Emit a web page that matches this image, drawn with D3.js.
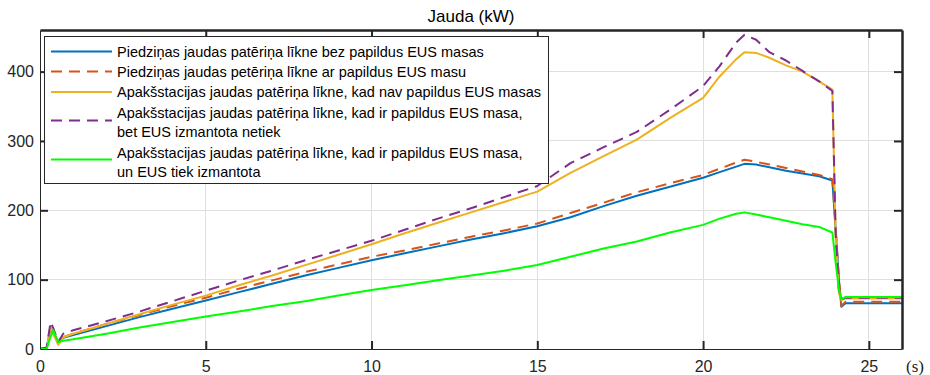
<!DOCTYPE html>
<html>
<head>
<meta charset="utf-8">
<script src="https://cdn.jsdelivr.net/npm/d3@7"></script>
<style>
  html, body { margin: 0; padding: 0; background: #fff; }
  svg { display: block; }
</style>
</head>
<body>
<svg id="chart" width="930" height="375"></svg>
<script>
// ---- data ----
const time = [0, 0.2, 0.32, 0.4, 0.55, 0.7, 1, 2, 3, 4, 5, 6, 7, 8, 9, 10, 11, 12, 13, 14, 15, 16, 17, 18, 19, 20, 20.5, 21, 21.25, 21.6, 22, 22.5, 23, 23.5, 23.9, 24.0, 24.1, 24.17, 24.3, 24.6, 25, 26];

const baseNoMass   = [0, 2, 30, 22, 10, 16, 20, 33, 46, 58, 70, 82, 94, 106, 117, 128, 138, 148, 158, 167, 177, 190, 206, 221, 234, 247, 255, 263, 267, 266, 262, 257, 253, 249, 243, 171, 98, 61, 66, 66, 66, 66];
const baseWithMass = [0, 2, 33, 24, 9, 17, 22, 36, 49, 62, 74, 87, 99, 111, 122, 133, 142, 152, 162, 171, 181, 196, 211, 226, 239, 251, 260, 269, 273, 270, 266, 261, 256, 251, 245, 174, 100, 62, 68, 68, 68, 68];
const subNoMass    = [0, 1, 32, 22, 6, 17, 22, 36, 50, 64, 77, 92, 106, 121, 136, 151, 167, 182, 197, 212, 227, 254, 278, 302, 333, 362, 393, 418, 428, 427, 420, 409, 400, 386, 374, 160, 80, 70, 73, 73, 73, 73];
const subMassNoEus = [0, 2, 39, 30, 10, 22, 27, 40, 54, 69, 84, 99, 113, 128, 142, 156, 172, 188, 203, 219, 235, 268, 291, 313, 345, 379, 408, 442, 453, 446, 428, 416, 401, 386, 372, 165, 82, 72, 74, 74, 74, 74];
const subMassEus   = [0, 0, 18, 27, 10, 12, 14, 22, 31, 39, 47, 54, 62, 69, 77, 85, 92, 99, 106, 113, 121, 133, 145, 155, 168, 179, 188, 195, 197, 194, 190, 185, 180, 176, 168, 124, 85, 72, 75, 75, 75, 75];

const seriesNames = [
  ["Piedziņas jaudas patēriņa līkne bez papildus EUS masas"],
  ["Piedziņas jaudas petēriņa līkne ar papildus EUS masu"],
  ["Apakšstacijas jaudas patēriņa līkne, kad nav papildus EUS masas"],
  ["Apakšstacijas jaudas patēriņa līkne, kad ir papildus EUS masa,", "bet EUS izmantota netiek"],
  ["Apakšstacijas jaudas patēriņa līkne, kad ir papildus EUS masa,", "un EUS tiek izmantota"]
];
const seriesColors = ["#0072BD", "#D95319", "#EDB120", "#7E2F8E", "#00FF00"];
const seriesDash = [null, "11,7", null, "11,7", null];
const seriesValues = [baseNoMass, baseWithMass, subNoMass, subMassNoEus, subMassEus];

const xTicks = [0, 5, 10, 15, 20, 25];
const yTicks = [0, 100, 200, 300, 400];
const titleText = "Jauda (kW)";
const xUnit = "(s)";

(function () {
// ---- layout ----
const svg = d3.select("#chart");
const pL = 40, pR = 902, pT = 30, pB = 349;
const x = d3.scaleLinear().domain([0, 26]).range([pL, pR]);
const y = d3.scaleLinear().domain([0, 460]).range([pB, pT]);
const axisColor = "#262626";
const font = "'Liberation Sans', Arial, sans-serif";

// grid
const grid = svg.append("g");
grid.selectAll(".gx").data(xTicks.filter(d => d > 0)).enter().append("line")
  .attr("x1", d => x(d)).attr("x2", d => x(d)).attr("y1", pT).attr("y2", pB)
  .attr("stroke", "#dfdfdf").attr("stroke-width", 1).attr("shape-rendering", "crispEdges");
grid.selectAll(".gy").data(yTicks.filter(d => d > 0)).enter().append("line")
  .attr("x1", pL).attr("x2", pR).attr("y1", d => y(d)).attr("y2", d => y(d))
  .attr("stroke", "#dfdfdf").attr("stroke-width", 1).attr("shape-rendering", "crispEdges");

// clip
svg.append("clipPath").attr("id", "clip").append("rect")
  .attr("x", pL).attr("y", pT).attr("width", pR - pL).attr("height", pB - pT);

const line = d3.line().x((d, i) => x(time[i])).y(d => y(d));
const lines = svg.append("g").attr("clip-path", "url(#clip)");
seriesValues.forEach((vals, k) => {
  lines.append("path").datum(vals)
    .attr("d", line)
    .attr("fill", "none")
    .attr("stroke", seriesColors[k])
    .attr("stroke-width", 2)
    .attr("stroke-linejoin", "round")
    .attr("stroke-dasharray", seriesDash[k]);
});

// axes
const tickLen = 8;
const axes = svg.append("g");
const xBottom = d3.axisBottom(x).tickValues(xTicks).tickSizeInner(-tickLen).tickSizeOuter(0).tickPadding(12).tickFormat(d3.format("d"));
const yLeft = d3.axisLeft(y).tickValues(yTicks).tickSizeInner(-tickLen).tickSizeOuter(0).tickPadding(6).tickFormat(d3.format("d"));
const xTop = d3.axisTop(x).tickValues(xTicks).tickSizeInner(-tickLen).tickSizeOuter(0).tickFormat("");
const yRight = d3.axisRight(y).tickValues(yTicks).tickSizeInner(-tickLen).tickSizeOuter(0).tickFormat("");

function styleAxis(g, w) {
  g.select(".domain").attr("stroke", axisColor).attr("stroke-width", w);
  g.selectAll(".tick line").attr("stroke", axisColor).attr("stroke-width", 2);
  g.selectAll("text").attr("font-family", font).attr("font-size", 16).attr("fill", "#262626");
}
axes.append("g").attr("transform", `translate(0,${pB})`).call(xBottom).call(g => styleAxis(g, 1));
axes.append("g").attr("transform", `translate(${pL},0)`).call(yLeft).call(g => styleAxis(g, 1));
axes.append("g").attr("transform", `translate(0,${pT})`).call(xTop).call(g => styleAxis(g, 2.5));
axes.append("g").attr("transform", `translate(${pR},0)`).call(yRight).call(g => styleAxis(g, 2.5));
axes.selectAll(".tick").filter(d => d === 0).select("line").remove();

// title
svg.append("text").attr("x", (pL + pR) / 2).attr("y", 22)
  .attr("text-anchor", "middle").attr("font-family", font).attr("font-size", 17)
  .attr("fill", "#000").text(titleText);

// unit label
svg.append("text").attr("x", 906).attr("y", 372)
  .attr("font-family", "'Liberation Serif', 'Times New Roman', serif").attr("font-size", 17)
  .attr("fill", "#262626").text(xUnit);

// legend
const lg = svg.append("g");
lg.append("rect").attr("x", 44.5).attr("y", 36.5).attr("width", 504).attr("height", 147)
  .attr("fill", "#fff").attr("stroke", "#262626").attr("stroke-width", 1);
const rowLineY = [51.5, 71.5, 92, 120.5, 159.5];
const rowTextY = [[51.5], [71.5], [92], [113, 132], [152.5, 171.5]];
seriesNames.forEach((lbl, k) => {
  lg.append("line").attr("x1", 51).attr("x2", 112).attr("y1", rowLineY[k]).attr("y2", rowLineY[k])
    .attr("stroke", seriesColors[k]).attr("stroke-width", 2).attr("stroke-dasharray", seriesDash[k]);
  lbl.forEach((t, j) => {
    lg.append("text").attr("x", 117).attr("y", rowTextY[k][j]).attr("dy", "0.35em")
      .attr("font-family", font).attr("font-size", 14.5).attr("fill", "#000").text(t);
  });
});
})();
</script>
</body>
</html>
